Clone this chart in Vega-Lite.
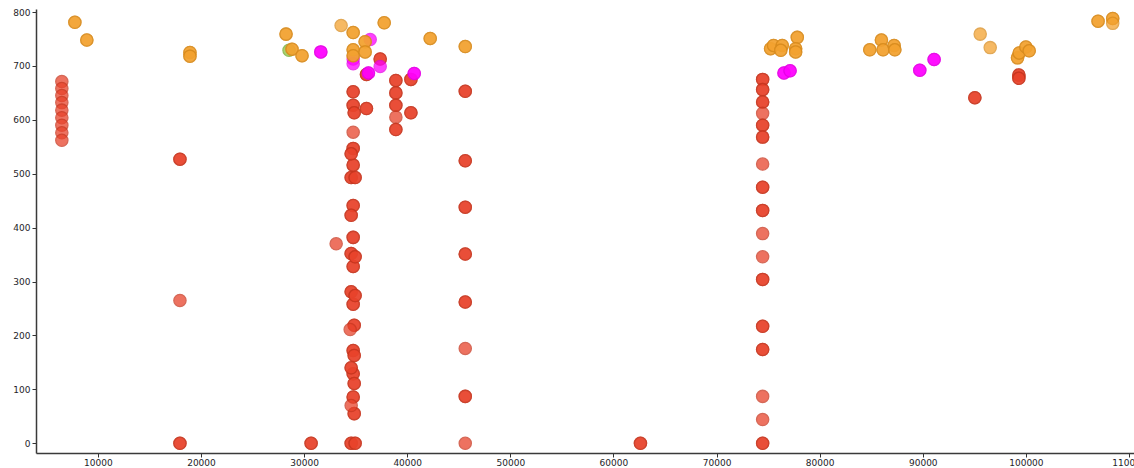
{
  "$schema": "https://vega.github.io/schema/vega-lite/v6.json",
  "autosize": {"type": "none"},
  "padding": {"left": 36, "top": 9, "right": 0, "bottom": 15},
  "width": 1098,
  "height": 444,
  "background": "white",
  "config": {
    "view": {"stroke": null},
    "axis": {
      "labelFont": "DejaVu Sans",
      "labelFontSize": 9,
      "labelColor": "#1e1e28",
      "tickColor": "#333333",
      "tickSize": 4,
      "domainColor": "#3a3a3a",
      "domainWidth": 1.5,
      "grid": false,
      "title": null,
      "labelFlush": false,
      "labelBound": false,
      "labelOverlap": false
    }
  },
  "data": {
    "values": [
      {"x": 6505, "y": 671, "cat": "A"}, {"x": 6505, "y": 658, "cat": "A"}, {"x": 6505, "y": 645, "cat": "A"},
      {"x": 6505, "y": 632, "cat": "A"}, {"x": 6505, "y": 618, "cat": "A"}, {"x": 6505, "y": 604, "cat": "A"},
      {"x": 6505, "y": 590, "cat": "A"}, {"x": 6505, "y": 576, "cat": "A"}, {"x": 6505, "y": 562, "cat": "A"},
      {"x": 17960, "y": 527, "cat": "A"}, {"x": 17960, "y": 527, "cat": "A"}, {"x": 17960, "y": 265, "cat": "A"},
      {"x": 17960, "y": 0, "cat": "A"}, {"x": 17960, "y": 0, "cat": "A"},
      {"x": 30680, "y": 0, "cat": "A"}, {"x": 30680, "y": 0, "cat": "A"},
      {"x": 33110, "y": 370, "cat": "A"},
      {"x": 34760, "y": 652, "cat": "A"}, {"x": 34760, "y": 652, "cat": "A"},
      {"x": 34760, "y": 627, "cat": "A"}, {"x": 34760, "y": 627, "cat": "A"},
      {"x": 34760, "y": 577, "cat": "A"},
      {"x": 34760, "y": 547, "cat": "A"}, {"x": 34760, "y": 547, "cat": "A"},
      {"x": 34760, "y": 516, "cat": "A"}, {"x": 34760, "y": 516, "cat": "A"},
      {"x": 34760, "y": 441, "cat": "A"}, {"x": 34760, "y": 441, "cat": "A"},
      {"x": 34760, "y": 382, "cat": "A"}, {"x": 34760, "y": 382, "cat": "A"},
      {"x": 34760, "y": 328, "cat": "A"}, {"x": 34760, "y": 328, "cat": "A"},
      {"x": 34760, "y": 258, "cat": "A"}, {"x": 34760, "y": 258, "cat": "A"},
      {"x": 34760, "y": 172, "cat": "A"}, {"x": 34760, "y": 172, "cat": "A"},
      {"x": 34760, "y": 129, "cat": "A"}, {"x": 34760, "y": 129, "cat": "A"},
      {"x": 34760, "y": 86, "cat": "A"}, {"x": 34760, "y": 86, "cat": "A"},
      {"x": 34860, "y": 613, "cat": "A"}, {"x": 34860, "y": 613, "cat": "A"},
      {"x": 34860, "y": 219, "cat": "A"}, {"x": 34860, "y": 219, "cat": "A"},
      {"x": 34860, "y": 163, "cat": "A"}, {"x": 34860, "y": 163, "cat": "A"},
      {"x": 34860, "y": 111, "cat": "A"}, {"x": 34860, "y": 111, "cat": "A"},
      {"x": 34860, "y": 55, "cat": "A"}, {"x": 34860, "y": 55, "cat": "A"},
      {"x": 34565, "y": 537, "cat": "A"}, {"x": 34565, "y": 537, "cat": "A"},
      {"x": 34565, "y": 493, "cat": "A"}, {"x": 34565, "y": 493, "cat": "A"},
      {"x": 34565, "y": 423, "cat": "A"}, {"x": 34565, "y": 423, "cat": "A"},
      {"x": 34565, "y": 352, "cat": "A"}, {"x": 34565, "y": 352, "cat": "A"},
      {"x": 34565, "y": 281, "cat": "A"}, {"x": 34565, "y": 281, "cat": "A"},
      {"x": 34565, "y": 140, "cat": "A"}, {"x": 34565, "y": 140, "cat": "A"},
      {"x": 34565, "y": 70, "cat": "A"},
      {"x": 34565, "y": 0, "cat": "A"}, {"x": 34565, "y": 0, "cat": "A"},
      {"x": 34950, "y": 493, "cat": "A"}, {"x": 34950, "y": 493, "cat": "A"},
      {"x": 34950, "y": 346, "cat": "A"}, {"x": 34950, "y": 346, "cat": "A"},
      {"x": 34950, "y": 274, "cat": "A"}, {"x": 34950, "y": 274, "cat": "A"},
      {"x": 34950, "y": 0, "cat": "A"}, {"x": 34950, "y": 0, "cat": "A"},
      {"x": 34470, "y": 211, "cat": "A"},
      {"x": 36050, "y": 621, "cat": "A"}, {"x": 36050, "y": 621, "cat": "A"},
      {"x": 36050, "y": 684, "cat": "A"}, {"x": 36050, "y": 684, "cat": "A"},
      {"x": 37380, "y": 713, "cat": "A"}, {"x": 37380, "y": 713, "cat": "A"},
      {"x": 38900, "y": 673, "cat": "A"}, {"x": 38900, "y": 673, "cat": "A"},
      {"x": 38900, "y": 650, "cat": "A"}, {"x": 38900, "y": 650, "cat": "A"},
      {"x": 38900, "y": 627, "cat": "A"}, {"x": 38900, "y": 627, "cat": "A"},
      {"x": 38900, "y": 605, "cat": "A"},
      {"x": 38900, "y": 582, "cat": "A"}, {"x": 38900, "y": 582, "cat": "A"},
      {"x": 40360, "y": 675, "cat": "A"}, {"x": 40360, "y": 675, "cat": "A"},
      {"x": 40360, "y": 613, "cat": "A"}, {"x": 40360, "y": 613, "cat": "A"},
      {"x": 45630, "y": 653, "cat": "A"}, {"x": 45630, "y": 653, "cat": "A"},
      {"x": 45630, "y": 524, "cat": "A"}, {"x": 45630, "y": 524, "cat": "A"},
      {"x": 45630, "y": 438, "cat": "A"}, {"x": 45630, "y": 438, "cat": "A"},
      {"x": 45630, "y": 351, "cat": "A"}, {"x": 45630, "y": 351, "cat": "A"},
      {"x": 45630, "y": 262, "cat": "A"}, {"x": 45630, "y": 262, "cat": "A"},
      {"x": 45630, "y": 176, "cat": "A"},
      {"x": 45630, "y": 87, "cat": "A"}, {"x": 45630, "y": 87, "cat": "A"},
      {"x": 45630, "y": 0, "cat": "A"},
      {"x": 62620, "y": 0, "cat": "A"}, {"x": 62620, "y": 0, "cat": "A"},
      {"x": 74470, "y": 675, "cat": "A"}, {"x": 74470, "y": 675, "cat": "A"},
      {"x": 74470, "y": 656, "cat": "A"}, {"x": 74470, "y": 656, "cat": "A"},
      {"x": 74470, "y": 633, "cat": "A"}, {"x": 74470, "y": 633, "cat": "A"},
      {"x": 74470, "y": 612, "cat": "A"},
      {"x": 74470, "y": 590, "cat": "A"}, {"x": 74470, "y": 590, "cat": "A"},
      {"x": 74470, "y": 568, "cat": "A"}, {"x": 74470, "y": 568, "cat": "A"},
      {"x": 74470, "y": 518, "cat": "A"},
      {"x": 74470, "y": 475, "cat": "A"}, {"x": 74470, "y": 475, "cat": "A"},
      {"x": 74470, "y": 432, "cat": "A"}, {"x": 74470, "y": 432, "cat": "A"},
      {"x": 74470, "y": 389, "cat": "A"},
      {"x": 74470, "y": 346, "cat": "A"},
      {"x": 74470, "y": 304, "cat": "A"}, {"x": 74470, "y": 304, "cat": "A"},
      {"x": 74470, "y": 217, "cat": "A"}, {"x": 74470, "y": 217, "cat": "A"},
      {"x": 74470, "y": 174, "cat": "A"}, {"x": 74470, "y": 174, "cat": "A"},
      {"x": 74470, "y": 87, "cat": "A"},
      {"x": 74470, "y": 44, "cat": "A"},
      {"x": 74470, "y": 0, "cat": "A"}, {"x": 74470, "y": 0, "cat": "A"},
      {"x": 95050, "y": 641, "cat": "A"}, {"x": 95050, "y": 641, "cat": "A"},
      {"x": 99320, "y": 683, "cat": "A"}, {"x": 99320, "y": 683, "cat": "A"},
      {"x": 99320, "y": 677, "cat": "A"}, {"x": 99320, "y": 677, "cat": "A"},

      {"x": 28540, "y": 729, "cat": "D"},

      {"x": 31620, "y": 726, "cat": "C"}, {"x": 31620, "y": 726, "cat": "C"},
      {"x": 36410, "y": 749, "cat": "C"},
      {"x": 34760, "y": 713, "cat": "C"}, {"x": 34760, "y": 704, "cat": "C"},
      {"x": 36240, "y": 687, "cat": "C"}, {"x": 36240, "y": 687, "cat": "C"},
      {"x": 37380, "y": 699, "cat": "C"},
      {"x": 40680, "y": 686, "cat": "C"}, {"x": 40680, "y": 686, "cat": "C"},
      {"x": 76540, "y": 687, "cat": "C"}, {"x": 76540, "y": 687, "cat": "C"},
      {"x": 77130, "y": 691, "cat": "C"}, {"x": 77130, "y": 691, "cat": "C"},
      {"x": 89710, "y": 692, "cat": "C"}, {"x": 89710, "y": 692, "cat": "C"},
      {"x": 91100, "y": 712, "cat": "C"}, {"x": 91100, "y": 712, "cat": "C"},

      {"x": 7770, "y": 781, "cat": "B"}, {"x": 7770, "y": 781, "cat": "B"},
      {"x": 8930, "y": 748, "cat": "B"}, {"x": 8930, "y": 748, "cat": "B"},
      {"x": 18930, "y": 725, "cat": "B"}, {"x": 18930, "y": 725, "cat": "B"},
      {"x": 18930, "y": 718, "cat": "B"}, {"x": 18930, "y": 718, "cat": "B"},
      {"x": 28250, "y": 759, "cat": "B"}, {"x": 28250, "y": 759, "cat": "B"},
      {"x": 28830, "y": 731, "cat": "B"}, {"x": 28830, "y": 731, "cat": "B"},
      {"x": 29800, "y": 719, "cat": "B"}, {"x": 29800, "y": 719, "cat": "B"},
      {"x": 33590, "y": 775, "cat": "B"},
      {"x": 34760, "y": 762, "cat": "B"}, {"x": 34760, "y": 762, "cat": "B"},
      {"x": 34760, "y": 730, "cat": "B"}, {"x": 34760, "y": 730, "cat": "B"},
      {"x": 34760, "y": 719, "cat": "B"}, {"x": 34760, "y": 719, "cat": "B"},
      {"x": 35920, "y": 745, "cat": "B"}, {"x": 35920, "y": 745, "cat": "B"},
      {"x": 35920, "y": 726, "cat": "B"}, {"x": 35920, "y": 726, "cat": "B"},
      {"x": 37770, "y": 780, "cat": "B"}, {"x": 37770, "y": 780, "cat": "B"},
      {"x": 42230, "y": 751, "cat": "B"}, {"x": 42230, "y": 751, "cat": "B"},
      {"x": 45630, "y": 736, "cat": "B"}, {"x": 45630, "y": 736, "cat": "B"},
      {"x": 75240, "y": 732, "cat": "B"}, {"x": 75240, "y": 732, "cat": "B"},
      {"x": 75530, "y": 738, "cat": "B"}, {"x": 75530, "y": 738, "cat": "B"},
      {"x": 76370, "y": 738, "cat": "B"}, {"x": 76370, "y": 738, "cat": "B"},
      {"x": 76230, "y": 729, "cat": "B"}, {"x": 76230, "y": 729, "cat": "B"},
      {"x": 77830, "y": 753, "cat": "B"}, {"x": 77830, "y": 753, "cat": "B"},
      {"x": 77670, "y": 732, "cat": "B"}, {"x": 77670, "y": 732, "cat": "B"},
      {"x": 77670, "y": 726, "cat": "B"}, {"x": 77670, "y": 726, "cat": "B"},
      {"x": 84860, "y": 730, "cat": "B"}, {"x": 84860, "y": 730, "cat": "B"},
      {"x": 85990, "y": 748, "cat": "B"}, {"x": 85990, "y": 748, "cat": "B"},
      {"x": 86150, "y": 730, "cat": "B"}, {"x": 86150, "y": 730, "cat": "B"},
      {"x": 87220, "y": 738, "cat": "B"}, {"x": 87220, "y": 738, "cat": "B"},
      {"x": 87290, "y": 730, "cat": "B"}, {"x": 87290, "y": 730, "cat": "B"},
      {"x": 95570, "y": 759, "cat": "B"},
      {"x": 96540, "y": 734, "cat": "B"},
      {"x": 99190, "y": 715, "cat": "B"}, {"x": 99190, "y": 715, "cat": "B"},
      {"x": 99350, "y": 724, "cat": "B"}, {"x": 99350, "y": 724, "cat": "B"},
      {"x": 100000, "y": 735, "cat": "B"}, {"x": 100000, "y": 735, "cat": "B"},
      {"x": 100320, "y": 728, "cat": "B"}, {"x": 100320, "y": 728, "cat": "B"},
      {"x": 107000, "y": 783, "cat": "B"}, {"x": 107000, "y": 783, "cat": "B"},
      {"x": 108420, "y": 788, "cat": "B"}, {"x": 108420, "y": 788, "cat": "B"},
      {"x": 108420, "y": 779, "cat": "B"}
    ]
  },
  "mark": {"type": "circle", "size": 150, "opacity": 0.75, "strokeWidth": 1.3},
  "encoding": {
    "x": {
      "field": "x",
      "type": "quantitative",
      "scale": {"domain": [4000, 110485], "nice": false, "zero": false},
      "axis": {
        "values": [10000, 20000, 30000, 40000, 50000, 60000, 70000, 80000, 90000, 100000, 110000],
        "format": "d",
        "labelPadding": 1
      }
    },
    "y": {
      "field": "y",
      "type": "quantitative",
      "scale": {"domain": [-18, 805.6], "nice": false, "zero": false},
      "axis": {
        "values": [0, 100, 200, 300, 400, 500, 600, 700, 800],
        "format": "d",
        "labelPadding": 2
      }
    },
    "color": {
      "field": "cat",
      "type": "nominal",
      "scale": {"domain": ["A", "B", "C", "D"], "range": ["#e8432b", "#f3a230", "#ff00ff", "#8dc63f"]},
      "legend": null
    },
    "stroke": {
      "field": "cat",
      "type": "nominal",
      "scale": {"domain": ["A", "B", "C", "D"], "range": ["#c8361f", "#d98c1e", "#e600e6", "#70a82a"]},
      "legend": null
    }
  }
}
